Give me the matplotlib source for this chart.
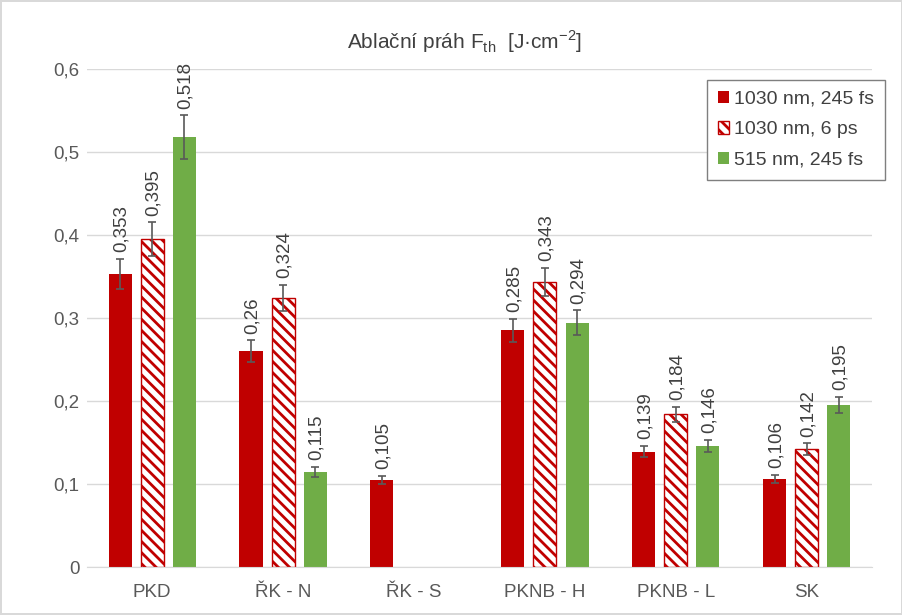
import matplotlib
matplotlib.use("Agg")
import matplotlib.pyplot as plt
import numpy as np

plt.rcParams["font.family"] = ["Liberation Sans", "DejaVu Sans"]
plt.rcParams["hatch.linewidth"] = 2.0

categories = ["PKD", "ŘK - N", "ŘK - S", "PKNB - H", "PKNB - L", "SK"]
series_names = ["1030 nm, 245 fs", "1030 nm, 6 ps", "515 nm, 245 fs"]
fs245 = [0.353, 0.26, 0.105, 0.285, 0.139, 0.106]
ps6 = [0.395, 0.324, np.nan, 0.343, 0.184, 0.142]
nm515 = [0.518, 0.115, np.nan, 0.294, 0.146, 0.195]
err245 = [0.018, 0.013, 0.005, 0.014, 0.007, 0.005]
err6 = [0.020, 0.016, np.nan, 0.017, 0.009, 0.007]
err515 = [0.026, 0.006, np.nan, 0.015, 0.007, 0.010]

red = "#c00000"
green = "#70ad47"
text_col = "#404040"

fig = plt.figure(figsize=(9.03, 6.15), dpi=100)
fig.patch.set_edgecolor("#d9d9d9")
fig.patch.set_linewidth(1.5)
ax = fig.add_axes([0.096, 0.078, 0.87, 0.81])

x = np.arange(len(categories))
w = 0.176
off = 0.245
err_kw = dict(ecolor="#595959", elinewidth=1.2, capsize=3, capthick=1.2)

ax.bar(x - off, fs245, w, color=red, yerr=err245, error_kw=err_kw, label=series_names[0])
ax.bar(x, ps6, w, color="white", edgecolor=red, hatch="\\\\\\", linewidth=1.0,
       yerr=err6, error_kw=err_kw, label=series_names[1])
ax.bar(x + off, nm515, w, color=green, yerr=err515, error_kw=err_kw, label=series_names[2])

# value labels above the error bars, Czech decimal comma
for dx, vals, errs in [(-off, fs245, err245), (0, ps6, err6), (off, nm515, err515)]:
    for xi, v, e in zip(x, vals, errs):
        if np.isnan(v):
            continue
        ax.text(xi + dx + 0.01, v + e + 0.008, f"{v:g}".replace(".", ","),
                rotation=90, ha="center", va="bottom", fontsize=13.5, color=text_col)

ax.set_xlim(-0.5, len(categories) - 0.5)
ax.set_ylim(0, 0.6)
ax.set_yticks(np.arange(0, 0.61, 0.1))
ax.set_yticklabels(["0"] + [f"{t:.1f}".replace(".", ",") for t in np.arange(0.1, 0.61, 0.1)])
ax.set_xticks(x)
ax.set_xticklabels(categories)
ax.tick_params(axis="both", length=0, labelsize=13.5, colors="#595959")
ax.tick_params(axis="x", pad=12)
ax.tick_params(axis="y", pad=5)
ax.grid(axis="y", color="#d9d9d9", linewidth=1.0)
ax.set_axisbelow(True)
for side in ["top", "right", "left"]:
    ax.spines[side].set_visible(False)
ax.spines["bottom"].set_color("#d9d9d9")

fig.text(0.515, 0.932, "Ablační práh F$_\\mathregular{th}$  [J·cm$^\\mathregular{-2}$]",
         ha="center", va="center", fontsize=15, color=text_col)

leg = ax.legend(loc="upper right", bbox_to_anchor=(1.016, 0.978), fontsize=14,
                handlelength=0.6, handleheight=0.6, handletextpad=0.25,
                labelspacing=0.7, borderpad=0.55, borderaxespad=0,
                fancybox=False, framealpha=1)
leg.get_frame().set_edgecolor("#7f7f7f")
leg.get_frame().set_linewidth(1.0)
for t in leg.get_texts():
    t.set_color(text_col)

fig.savefig("out.png", dpi=100, facecolor="white", edgecolor=fig.patch.get_edgecolor())
